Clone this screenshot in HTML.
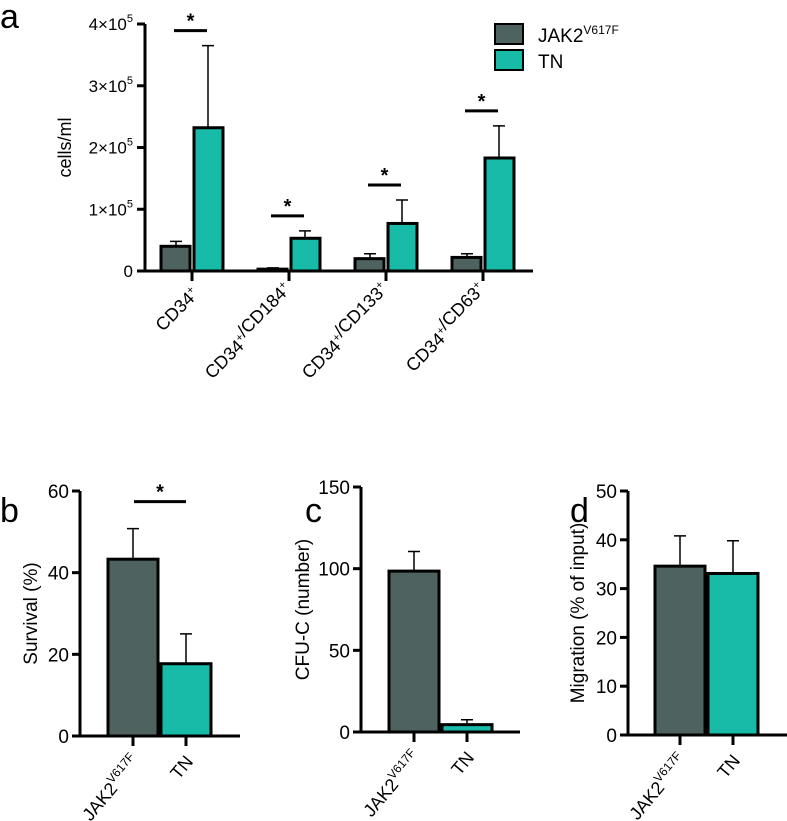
<!DOCTYPE html>
<html><head><meta charset="utf-8">
<style>
body{margin:0;background:#fff;}
svg{display:block;font-family:"Liberation Sans",Arial,sans-serif;}
</style></head>
<body>
<svg id="chart" width="787" height="821" viewBox="0 0 787 821" xmlns="http://www.w3.org/2000/svg"></svg>
<script>
// Panel a data
const aCategories = ["CD34+", "CD34+/CD184+", "CD34+/CD133+", "CD34+/CD63+"];
const aJak = [0.40, 0.03, 0.20, 0.22];
const aJakErr = [0.48, 0.05, 0.28, 0.28];
const aTn = [2.32, 0.53, 0.77, 1.83];
const aTnErr = [3.65, 0.65, 1.15, 2.35];
const aTicks = [0, 1, 2, 3, 4];
const aTickLabels = ["0", "1×10", "2×10", "3×10", "4×10"];
const aSig = [true, true, true, true];
// Panel b
const bValues = [43.3, 17.7];
const bErr = [50.8, 25.0];
const bTicks = [0, 20, 40, 60];
// Panel c
const cValues = [98.5, 4.5];
const cErr = [110.5, 7.5];
const cTicks = [0, 50, 100, 150];
// Panel d
const dValues = [34.6, 33.1];
const dErr = [40.8, 39.8];
const dTicks = [0, 10, 20, 30, 40, 50];

const DARK = "#4e6360", TEAL = "#17bba7";
const svg = document.getElementById('chart');
const NS = "http://www.w3.org/2000/svg";
function mk(tag, attrs, parent) {
  const e = document.createElementNS(NS, tag);
  for (const k in attrs) e.setAttribute(k, attrs[k]);
  (parent || svg).appendChild(e);
  return e;
}

function panelText(txt, x, y) {
  const t = mk('text', {x: x, y: y, 'font-size': 34});
  t.textContent = txt;
  
  
}

function bar(x, w, y0, y, fill, name) {
  const r = mk('rect', {x: x, y: y, width: w, height: y0 - y, fill: fill, stroke: '#000', 'stroke-width': 3});
  
  
}
function errbar(cx, yTop, yv, name) {
  const g = mk('path', {d: `M${cx} ${yv} V${yTop} M${cx-6} ${yTop} H${cx+6}`, stroke: '#000', 'stroke-width': 1.5, fill: 'none'});
  
  
}
function sig(x1, x2, y, name) {
  const l = mk('line', {x1: x1, x2: x2, y1: y, y2: y, stroke: '#000', 'stroke-width': 3});
  
  
  const t = mk('text', {x: (x1 + x2) / 2, y: y - 3, 'font-size': 20, 'font-weight': 'bold', 'text-anchor': 'middle'});
  t.textContent = '*';
  
  
}

// ===== Panel a =====
panelText('a', 0, 28);
const aX0 = 145, aY0 = 271, aYTop = 24, aMax = 4, aXEnd = 533;
const ay = v => aY0 - (v / aMax) * (aY0 - aYTop);
const aCenter = i => 192 + i * 97;
let ax = mk('path', {d: `M${aX0} ${aYTop} V${aY0} H${aXEnd}`, stroke: '#000', 'stroke-width': 3, fill: 'none'});


aTicks.forEach((v, i) => {
  mk('line', {x1: aX0 - 8, x2: aX0, y1: ay(v), y2: ay(v), stroke: '#000', 'stroke-width': 3});
  const t = mk('text', {x: aX0 - 12, y: ay(v) + 6, 'font-size': 17, 'text-anchor': 'end'});
  
  
  if (v === 0) t.textContent = '0';
  else { t.textContent = aTickLabels[i]; const s = mk('tspan', {dy: -8, 'font-size': 11}, t); s.textContent = '5'; }
});
let yt = mk('text', {x: 0, y: 0, 'font-size': 18, 'text-anchor': 'middle', transform: `translate(71 ${ay(2)}) rotate(-90)`});
yt.textContent = 'cells/ml';


aCategories.forEach((c, i) => {
  const cx = aCenter(i);
  mk('line', {x1: cx, x2: cx, y1: aY0, y2: aY0 + 10, stroke: '#000', 'stroke-width': 3});
  errbar(cx - 16, ay(aJakErr[i]), ay(aJak[i]), 'a-jak-error-' + i);
  errbar(cx + 16, ay(aTnErr[i]), ay(aTn[i]), 'a-tn-error-' + i);
  bar(cx - 31, 29, aY0, ay(aJak[i]), DARK, 'a-bar-jak-' + i);
  bar(cx + 2, 29, aY0, ay(aTn[i]), TEAL, 'a-bar-tn-' + i);
  if (aSig[i]) sig(cx - 18, cx + 15, ay(aTnErr[i]) - 15, 'a-sig-' + i);
  const t = mk('text', {x: 0, y: 0, 'font-size': 18, 'text-anchor': 'end', transform: `translate(${cx + 8} ${aY0 + 24}) rotate(-45)`});
  
  
  const parts = c.split('+');
  parts.forEach((p, j) => {
    if (p === '') return;
    const s = mk('tspan', {}, t); s.textContent = p;
    const sp = mk('tspan', {dy: -7, 'font-size': 11}, t); sp.textContent = '+';
    const back = mk('tspan', {dy: 7, 'font-size': 18}, t); back.textContent = '';
  });
});
// legend
let l1 = mk('rect', {x: 495, y: 24, width: 28, height: 20, fill: DARK, stroke: '#000', 'stroke-width': 2});


let l2 = mk('rect', {x: 495, y: 50, width: 28, height: 20, fill: TEAL, stroke: '#000', 'stroke-width': 2});


let lt1 = mk('text', {x: 538, y: 42, 'font-size': 19});


lt1.textContent = 'JAK2';
let ls = mk('tspan', {dy: -8, 'font-size': 12}, lt1); ls.textContent = 'V617F';
let lt2 = mk('text', {x: 538, y: 68, 'font-size': 19});


lt2.textContent = 'TN';

// ===== Small panels =====
function small(opt) {
  const {letter, lx, x0, y0, yTop, max, xEnd, ticks, values, err, title, titleX, bar0, sigOn} = opt;
  panelText(letter, lx, 522);
  const y = v => y0 - (v / max) * (y0 - yTop);
  const a = mk('path', {d: `M${x0} ${yTop} V${y0} H${xEnd}`, stroke: '#000', 'stroke-width': 3, fill: 'none'});
  
  
  ticks.forEach(v => {
    mk('line', {x1: x0 - 8, x2: x0, y1: y(v), y2: y(v), stroke: '#000', 'stroke-width': 3});
    const t = mk('text', {x: x0 - 11, y: y(v) + 7, 'font-size': 19, 'text-anchor': 'end'});
    t.textContent = v;
    
    
  });
  const tt = mk('text', {x: 0, y: 0, 'font-size': 19, 'text-anchor': 'middle', transform: `translate(${titleX} ${(y0 + yTop) / 2}) rotate(-90)`});
  tt.textContent = title;
  
  
  const fills = [DARK, TEAL], names = ['jak', 'tn'];
  values.forEach((v, i) => {
    const bx = bar0 + i * 53;
    const cx = bx + 25;
    errbar(cx, y(err[i]), y(v), letter + '-error-' + names[i]);
    bar(bx, 50, y0, y(v), fills[i], letter + '-bar-' + names[i]);
    mk('line', {x1: cx, x2: cx, y1: y0, y2: y0 + 10, stroke: '#000', 'stroke-width': 3});
    const t = mk('text', {x: 0, y: 0, 'font-size': 18, 'text-anchor': 'end', transform: `translate(${cx + 8} ${y0 + 26}) rotate(-50)`});
    
    
    if (i === 0) { t.textContent = 'JAK2'; const s = mk('tspan', {dy: -8, 'font-size': 12}, t); s.textContent = 'V617F'; }
    else t.textContent = 'TN';
  });
  if (sigOn) sig(bar0 + 26, bar0 + 78, y(err[0]) - 27, letter + '-sig');
}
small({letter: 'b', lx: 0, x0: 80, y0: 736, yTop: 491, max: 60, xEnd: 240, ticks: bTicks, values: bValues, err: bErr, title: 'Survival (%)', titleX: 37, bar0: 108, sigOn: true});
small({letter: 'c', lx: 305, x0: 361, y0: 732, yTop: 487, max: 150, xEnd: 520, ticks: cTicks, values: cValues, err: cErr, title: 'CFU-C (number)', titleX: 309, bar0: 389, sigOn: false});
small({letter: 'd', lx: 570, x0: 628, y0: 735, yTop: 491, max: 50, xEnd: 787, ticks: dTicks, values: dValues, err: dErr, title: 'Migration (% of input)', titleX: 584, bar0: 655, sigOn: false});
</script>
</body></html>
